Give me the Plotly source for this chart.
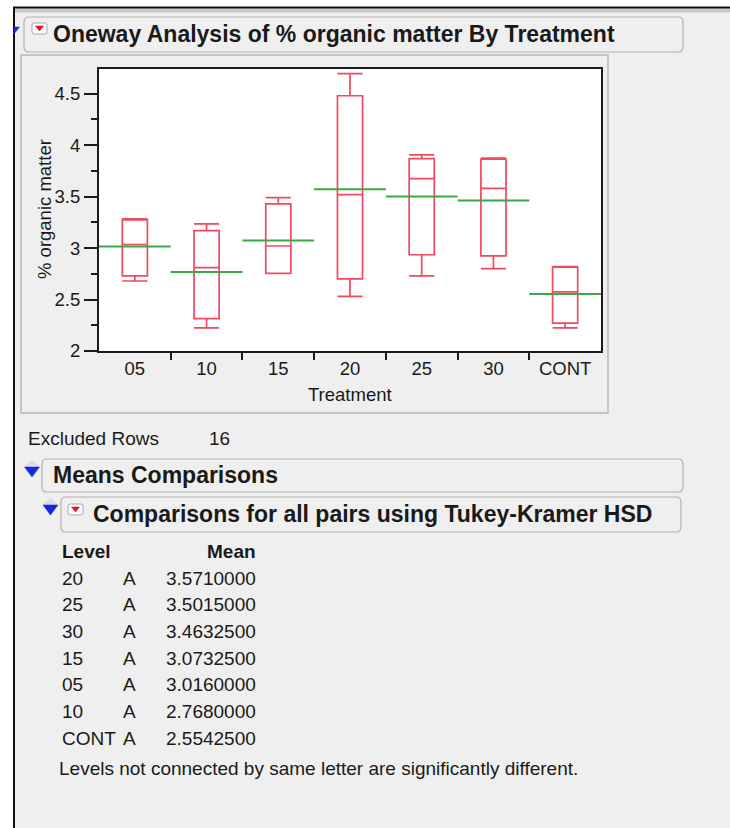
import plotly.graph_objects as go

# ---------------- data ----------------
categories = ["05", "10", "15", "20", "25", "30", "CONT"]
q_min = [2.68, 2.225, 2.755, 2.53, 2.73, 2.80, 2.225]
q1 = [2.73, 2.315, 2.755, 2.70, 2.935, 2.925, 2.27]
median = [3.035, 2.81, 3.02, 3.52, 3.675, 3.58, 2.575]
q3 = [3.275, 3.17, 3.43, 4.48, 3.87, 3.865, 2.815]
q_max = [3.285, 3.235, 3.49, 4.695, 3.905, 3.875, 2.82]
group_means = [3.016, 2.768, 3.07325, 3.571, 3.5015, 3.46325, 2.55425]

table_levels = ["20", "25", "30", "15", "05", "10", "CONT"]
table_letters = ["A", "A", "A", "A", "A", "A", "A"]
table_means = [3.5710000, 3.5015000, 3.4632500, 3.0732500, 3.0160000, 2.7680000, 2.5542500]

y_ticks = [2, 2.5, 3, 3.5, 4, 4.5]
excluded_rows = 16

# ---------------- geometry helpers (pixel -> paper) ----------------
W, H = 730, 828
L, R, T, B = 99, 601, 69, 351
PW, PH = R - L, B - T


def X(px):
    return (px - L) / PW


def Y(py):
    return (B - py) / PH


FONT = "Liberation Sans, Arial, sans-serif"
TXT = "#1a1a1a"
RED = "#ef4a60"
GREEN = "#3aa845"

fig = go.Figure()

fig.add_trace(go.Box(
    x=categories, q1=q1, median=median, q3=q3,
    lowerfence=q_min, upperfence=q_max,
    boxpoints=False, width=0.35, whiskerwidth=1,
    line=dict(color=RED, width=1.7), fillcolor="rgba(0,0,0,0)",
    showlegend=False, hoverinfo="skip",
))

mx, my = [], []
for i, m in enumerate(group_means):
    mx += [i - 0.5, i + 0.5, None]
    my += [m, m, None]
fig.add_trace(go.Scatter(
    x=mx, y=my, xaxis="x2", mode="lines",
    line=dict(color=GREEN, width=2), showlegend=False, hoverinfo="skip",
))

shapes = []


def rect(x0, y0, x1, y1, fill, line_color=None, lw=0):
    shapes.append(dict(type="rect", xref="paper", yref="paper", layer="below",
                       x0=X(x0), x1=X(x1), y0=Y(y1), y1=Y(y0),
                       fillcolor=fill,
                       line=dict(color=line_color or "rgba(0,0,0,0)", width=lw)))


def line(x0, y0, x1, y1, color, lw):
    shapes.append(dict(type="line", xref="paper", yref="paper", layer="below",
                       x0=X(x0), x1=X(x1), y0=Y(y0), y1=Y(y1),
                       line=dict(color=color, width=lw)))


def rrect(x0, y0, x1, y1, r, color="#b2b2b2", fill="rgba(0,0,0,0)", lw=1.2):
    def p(a, b):
        return f"{X(a):.5f},{Y(b):.5f}"
    path = (f"M {p(x0 + r, y0)} L {p(x1 - r, y0)} Q {p(x1, y0)} {p(x1, y0 + r)} "
            f"L {p(x1, y1 - r)} Q {p(x1, y1)} {p(x1 - r, y1)} "
            f"L {p(x0 + r, y1)} Q {p(x0, y1)} {p(x0, y1 - r)} "
            f"L {p(x0, y0 + r)} Q {p(x0, y0)} {p(x0 + r, y0)} Z")
    shapes.append(dict(type="path", xref="paper", yref="paper", layer="below",
                       path=path, fillcolor=fill, line=dict(color=color, width=lw)))


def poly(pts, fill):
    path = "M " + " L ".join(f"{X(a):.5f},{Y(b):.5f}" for a, b in pts) + " Z"
    shapes.append(dict(type="path", xref="paper", yref="paper", layer="below",
                       path=path, fillcolor=fill, line=dict(color=fill, width=0.5)))


# window chrome
rect(0, 0, W, 7, "white")
rect(0, 0, 13.5, H, "white")
rect(14, 8.5, W, 12.5, "#c6c6c6")
line(13, 7.5, W, 7.5, "#111111", 2)
line(14, 7, 14, H, "#111111", 2)

# outline boxes
rrect(24, 17, 683, 52, 5)
rrect(42, 459, 683, 492, 5)
rrect(61, 497, 681, 532, 5)

# plot panel
rect(21, 55, 608, 413, "rgba(0,0,0,0)", "#b8b8b8", 1.5)

# red popup icons
for (ix, iy) in [(32, 23), (68, 504)]:
    rrect(ix, iy, ix + 15, iy + 11, 2.5, color="#a8a8a8", fill="#fbfbfb", lw=1)
    poly([(ix + 3.5, iy + 3), (ix + 11.5, iy + 3), (ix + 7.5, iy + 8)], "#e8101a")

# blue disclosure triangles
for (cx, ty) in [(32, 460), (50.5, 498)]:
    poly([(cx, ty), (cx - 7.5, ty + 7), (cx + 7.5, ty + 7)], "#dcdce6")
    poly([(cx - 7.5, ty + 7), (cx + 7.5, ty + 7), (cx, ty + 17)], "#1428e0")
poly([(14, 27), (19.5, 27), (14, 34)], "#1428e0")

# ---------------- annotations ----------------
ann = []


def text(s, px, py, size=19, bold=False, anchor="left", color=TXT, angle=0):
    ann.append(dict(text=f"<b>{s}</b>" if bold else s, xref="paper", yref="paper",
                    x=X(px), y=Y(py), xanchor=anchor, yanchor="middle",
                    showarrow=False, textangle=angle,
                    font=dict(family=FONT, size=size, color=color)))


text("Oneway Analysis of % organic matter By Treatment", 51, 34, size=23, bold=True)
text("Treatment", 350, 394, size=18.5, anchor="center")
text("% organic matter", 44, 209, size=18.5, anchor="center", angle=-90)
text("Excluded Rows", 26, 438)
text(str(excluded_rows), 207, 438)
text("Means Comparisons", 51, 475, size=23, bold=True)
text("Comparisons for all pairs using Tukey-Kramer HSD", 91, 514, size=23, bold=True)

text("Level", 60, 551, bold=True)
text("Mean", 258, 551, bold=True, anchor="right")
row_y0, row_dy = 578, 26.7
for k, (lv, lt, mv) in enumerate(zip(table_levels, table_letters, table_means)):
    yy = row_y0 + k * row_dy
    text(lv, 60, yy)
    text(lt, 121, yy)
    text(f"{mv:.7f}", 258, yy, anchor="right")
text("Levels not connected by same letter are significantly different.", 57, 768)

fig.update_layout(
    width=W, height=H, autosize=False,
    margin=dict(l=L, r=W - R, t=T, b=H - B, pad=0),
    paper_bgcolor="#efefef", plot_bgcolor="white",
    shapes=shapes, annotations=ann, showlegend=False,
    font=dict(family=FONT, color=TXT),
    xaxis=dict(type="category", range=[-0.5, 6.5], showgrid=False, zeroline=False,
               showline=True, linecolor="#1a1a1a", linewidth=2, mirror=True,
               ticks="", ticklen=0,
               tickfont=dict(size=18.5, color=TXT, family=FONT), fixedrange=True),
    xaxis2=dict(overlaying="x", anchor="y", side="bottom", range=[-0.5, 6.5],
                showgrid=False, zeroline=False, showline=False, showticklabels=False,
                tickmode="array", tickvals=[i + 0.5 for i in range(len(categories) - 1)],
                ticks="outside", ticklen=8, tickwidth=2, tickcolor="#1a1a1a"),
    yaxis=dict(range=[2, 4.74], tickmode="array", tickvals=y_ticks,
               showgrid=False, zeroline=False,
               showline=True, linecolor="#1a1a1a", linewidth=2, mirror=True,
               ticks="outside", ticklen=13, tickwidth=2, tickcolor="#1a1a1a",
               tickfont=dict(size=18.5, color=TXT, family=FONT),
               minor=dict(tickmode="array",
                          tickvals=[v + 0.25 for v in y_ticks[:-1]],
                          ticks="outside", ticklen=6, tickwidth=1.5, tickcolor="#1a1a1a")),
)

fig.write_html(
    "out.html",
    config={"displayModeBar": False},
    post_script="document.body.style.margin='0';document.body.style.overflow='hidden';",
)
